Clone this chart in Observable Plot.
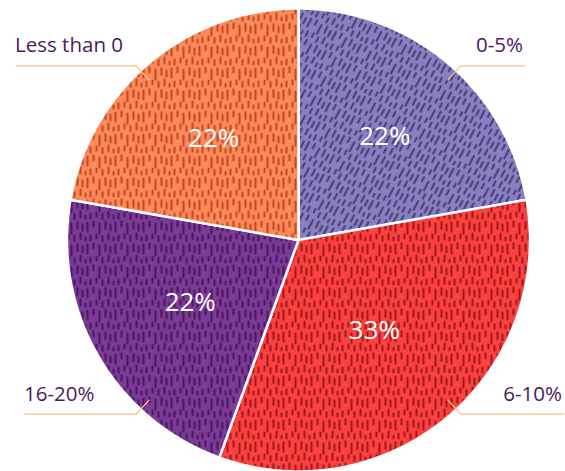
<!DOCTYPE html>
<html>
<head>
<meta charset="utf-8">
<script src="https://cdn.jsdelivr.net/npm/d3@7"></script>
<script src="https://cdn.jsdelivr.net/npm/@observablehq/plot@0.6"></script>
<style>
  html, body { margin: 0; padding: 0; background: #fff; }
  #chart { width: 565px; height: 471px; overflow: hidden; }
</style>
</head>
<body>
<div id="chart"></div>
<script>
// ---- data ----
const categories = ["0-5%", "6-10%", "16-20%", "Less than 0"];
const shares = [22, 33, 22, 22];
const shareLabels = ["22%", "33%", "22%", "22%"];

// ---- styles / layout ----
const baseColors = ["#8a7fc1", "#fb4240", "#7c3b96", "#fd8a5a"];
const inkColors = ["#3b3169", "#8c0d12", "#3a0f52", "#b23a16"];
const patternTilt = [28, 0, 0, 0];
const leaderLengthPx = [64, 103, 111, 120];
const labelRadius = [0.58, 0.51, 0.54, 0.57];
const R_PX = 231.5;

// ---- geometry from data ----
const total = d3.sum(shares);
let acc = 0;
const slices = categories.map((c, i) => {
  const a0 = acc / total * 360;
  acc += shares[i];
  const a1 = acc / total * 360;
  return {category: c, i, a0, a1, mid: (a0 + a1) / 2};
});
const rad = a => a * Math.PI / 180;
const polyRows = [];
for (const s of slices) {
  polyRows.push({slice: s.category, x: 0, y: 0, fill: `url(#tex-${s.i})`});
  for (let a = s.a0; a <= s.a1 + 1e-9; a += 0.5) {
    polyRows.push({slice: s.category, x: Math.sin(rad(a)), y: Math.cos(rad(a)), fill: `url(#tex-${s.i})`});
  }
}
const labelRows = slices.map(s => ({
  text: shareLabels[s.i],
  x: labelRadius[s.i] * Math.sin(rad(s.mid)),
  y: labelRadius[s.i] * Math.cos(rad(s.mid))
}));
const leaderRows = [];
const outerLabels = [];
for (const s of slices) {
  const sx = Math.sign(Math.sin(rad(s.mid)));
  const sy = Math.sign(Math.cos(rad(s.mid)));
  const dx = Math.sin(rad(43)), dy = Math.cos(rad(43));
  const start = {x: sx * 0.946 * dx, y: sy * 0.946 * dy};
  const elbow = {x: sx * 1.029 * dx, y: sy * 1.029 * dy};
  const end = {x: elbow.x + sx * leaderLengthPx[s.i] / R_PX, y: elbow.y};
  for (const p of [start, elbow, end]) leaderRows.push({slice: s.category, ...p});
  outerLabels.push({text: s.category, side: sx, x: end.x, y: end.y});
}

const font = "'Open Sans', sans-serif";
const plot = Plot.plot({
  width: 565,
  height: 471,
  marginLeft: 298 - R_PX,
  marginRight: 565 - 298 - R_PX,
  marginTop: 8,
  marginBottom: 0,
  x: {domain: [-1, 1], axis: null},
  y: {domain: [-1, 1], axis: null},
  color: {type: "identity"},
  style: {overflow: "visible", fontFamily: font, background: "white"},
  marks: [
    Plot.line(polyRows, {x: "x", y: "y", z: "slice", fill: "fill", stroke: "white", strokeWidth: 2.5, strokeLinejoin: "round", curve: "linear-closed"}),
    Plot.line(leaderRows, {x: "x", y: "y", z: "slice", stroke: "#f9c48e", strokeWidth: 1.3}),
    Plot.text(labelRows, {x: "x", y: "y", text: "text", fill: "white", fontSize: 26, fontWeight: 500, fontFamily: font, style: "letter-spacing:0.5px"}),
    Plot.text(outerLabels.filter(d => d.side < 0), {x: "x", y: "y", text: "text", textAnchor: "start", dx: -1, dy: -20, fill: "#4b1a5e", fontSize: 20.5, fontFamily: font, style: "letter-spacing:0.7px"}),
    Plot.text(outerLabels.filter(d => d.side > 0), {x: "x", y: "y", text: "text", textAnchor: "end", dx: -2, dy: -20, fill: "#4b1a5e", fontSize: 20.5, fontFamily: font})
  ]
});

// texture patterns
const ns = "http://www.w3.org/2000/svg";
const defs = document.createElementNS(ns, "defs");
const strokesPath = "M3 2v9 M9 1v5 M15 3v10 M21 1.5v7 M26 4v6 M6 15v5 M12 14v4 M18 15.5v5 M24 13v6 M1 17v3";
slices.forEach(s => {
  const p = document.createElementNS(ns, "pattern");
  p.setAttribute("id", `tex-${s.i}`);
  p.setAttribute("patternUnits", "userSpaceOnUse");
  p.setAttribute("width", "28");
  p.setAttribute("height", "22");
  if (patternTilt[s.i]) p.setAttribute("patternTransform", `rotate(${patternTilt[s.i]})`);
  const r = document.createElementNS(ns, "rect");
  r.setAttribute("width", "28"); r.setAttribute("height", "22");
  r.setAttribute("fill", baseColors[s.i]);
  p.appendChild(r);
  const path = document.createElementNS(ns, "path");
  path.setAttribute("d", strokesPath);
  path.setAttribute("stroke", inkColors[s.i]);
  path.setAttribute("stroke-width", "2.2");
  path.setAttribute("stroke-linecap", "round");
  path.setAttribute("opacity", "0.8");
  p.appendChild(path);
  defs.appendChild(p);
});
plot.insertBefore(defs, plot.firstChild);
document.getElementById("chart").appendChild(plot);
</script>
</body>
</html>
